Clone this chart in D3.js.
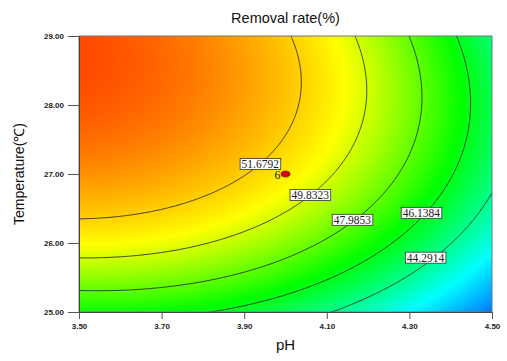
<!DOCTYPE html>
<html><head><meta charset="utf-8">
<script src="https://cdn.jsdelivr.net/npm/d3@7"></script>
<style>body{margin:0;background:#fff}svg{display:block}</style>
</head><body><div id="chart"></div>
<script>
const phTicks = [3.5, 3.7, 3.9, 4.1, 4.3, 4.5];
const tempTicks = [25, 26, 27, 28, 29];
const contourLevels = [44.2914, 46.1384, 47.9853, 49.8323, 51.6792];
const labelPH = [4.339, 4.329, 4.162, 4.060, 3.939];
const labelTemp = [25.787, 26.437, 26.336, 26.697, 27.144];
// quadratic response-surface terms in coded units: [intercept, A, B, AB, A^2, B^2]
// (A = (pH - 4.0) / 0.5, B = (T - 27) / 2), estimated from the contour lines of the picture
const modelCoef = [50.937, -4.328, 3.332, -0.918, -1.944, -2.451];
const designPH = [4.0];
const designTemp = [27.0];
const designCount = ["6"];

function model(ph, t) {
  const A = (ph - 4) / 0.5, B = (t - 27) / 2;
  const c = modelCoef;
  return c[0] + c[1] * A + c[2] * B + c[3] * A * B + c[4] * A * A + c[5] * B * B;
}

const W = 507, H = 361;
const x0 = 79, x1 = 492, y0 = 36, y1 = 312;
const x = d3.scaleLinear().domain([3.5, 4.5]).range([x0, x1]);
const y = d3.scaleLinear().domain([25, 29]).range([y1, y0]);
const color = d3.scaleLinear()
  .domain([37.5, 42.5, 46.5, 50.5, 57])
  .range(["#0000ff", "#00ffff", "#00ff00", "#ffff00", "#ff0000"]).clamp(true);

const svg = d3.select("#chart").append("svg").attr("width", W).attr("height", H);
svg.append("rect").attr("width", W).attr("height", H).attr("fill", "#fff");

// heat map
const pw = x1 - x0, ph = y1 - y0;
const cv = document.createElement("canvas"); cv.width = pw; cv.height = ph;
const ctx = cv.getContext("2d"); const img = ctx.createImageData(pw, ph);
for (let j = 0; j < ph; j++) for (let i = 0; i < pw; i++) {
  const v = model(x.invert(x0 + i + 0.5), y.invert(y0 + j + 0.5));
  const c = d3.rgb(color(v)); const o = 4 * (j * pw + i);
  img.data[o] = c.r; img.data[o + 1] = c.g; img.data[o + 2] = c.b; img.data[o + 3] = 255;
}
ctx.putImageData(img, 0, 0);
svg.append("image").attr("x", x0).attr("y", y0).attr("width", pw).attr("height", ph)
  .attr("preserveAspectRatio", "none").attr("href", cv.toDataURL());

// contours
const gs = 0.005, ts = 0.02, gph0 = 3.49, gt0 = 29.02;
const nx = Math.round((4.51 - 3.49) / gs) + 1, ny = Math.round((29.02 - 24.98) / ts) + 1;
const values = new Array(nx * ny);
for (let j = 0; j < ny; j++) for (let i = 0; i < nx; i++) values[j * nx + i] = model(gph0 + i * gs, gt0 - j * ts);
const contours = d3.contours().size([nx, ny]).thresholds(contourLevels)(values);
const proj = d3.geoTransform({point(gx, gy) { this.stream.point(x(gph0 + (gx - 0.5) * gs), y(gt0 - (gy - 0.5) * ts)); }});
svg.append("clipPath").attr("id", "clip").append("rect").attr("x", x0).attr("y", y0).attr("width", pw).attr("height", ph);
svg.append("g").attr("clip-path", "url(#clip)").selectAll("path").data(contours).join("path")
  .attr("d", d3.geoPath(proj)).attr("fill", "none").attr("stroke", "#1a1a1a").attr("stroke-width", 0.8);

// frame
svg.append("rect").attr("x", x0).attr("y", y0).attr("width", pw).attr("height", ph)
  .attr("fill", "none").attr("stroke", "#777").attr("stroke-width", 1);

// axes
const fmt = d3.format(".2f");
const gx = svg.append("g").attr("transform", `translate(0,${y1})`)
  .call(d3.axisBottom(x).tickValues(phTicks).tickFormat(fmt).tickSize(7).tickPadding(4).tickSizeOuter(0));
const gy = svg.append("g").attr("transform", `translate(${x0},0)`)
  .call(d3.axisLeft(y).tickValues(tempTicks).tickFormat(fmt).tickSize(11).tickPadding(4).tickSizeOuter(0));
[gx, gy].forEach(g => {
  g.selectAll("text").attr("font-family", "Liberation Sans, Arial, sans-serif").attr("font-size", 8).attr("font-weight", "bold").attr("fill", "#222");
  g.selectAll("line").attr("stroke", "#555");
  g.select(".domain").attr("stroke", "#444");
});

// contour labels
const lab = svg.append("g");
contourLevels.forEach((lv, i) => {
  const g = lab.append("g").attr("transform", `translate(${x(labelPH[i])},${y(labelTemp[i])})`);
  const r = g.append("rect");
  const t = g.append("text").text(d3.format(".4f")(lv)).attr("text-anchor", "middle").attr("dy", "0.35em")
    .attr("font-family", "Liberation Serif, Times New Roman, serif").attr("font-size", 11.5).attr("fill", "#222");
  const bb = t.node().getBBox();
  r.attr("x", bb.x - 1.5).attr("y", -5.5).attr("width", bb.width + 3).attr("height", 11)
    .attr("fill", "#fff").attr("stroke", "#333").attr("stroke-width", 0.8);
});

// design point
designPH.forEach((p, i) => {
  svg.append("ellipse").attr("cx", x(p)).attr("cy", y(designTemp[i])).attr("rx", 4.5).attr("ry", 3)
    .attr("fill", "#d40000").attr("stroke", "#8a0000").attr("stroke-width", 0.6);
  svg.append("text").attr("x", x(p) - 5).attr("y", y(designTemp[i]) + 4.5).attr("text-anchor", "end")
    .attr("font-family", "Liberation Serif, Times New Roman, serif").attr("font-size", 12).attr("fill", "#111").text(designCount[i]);
});

// titles
svg.append("text").attr("x", (x0 + x1) / 2).attr("y", 22.5).attr("text-anchor", "middle")
  .attr("font-family", "Liberation Sans, Arial, sans-serif").attr("font-size", 14.5).attr("fill", "#111").text("Removal rate(%)");
svg.append("text").attr("x", (x0 + x1) / 2).attr("y", 350).attr("text-anchor", "middle")
  .attr("font-family", "Liberation Sans, Arial, sans-serif").attr("font-size", 15).attr("fill", "#111").text("pH");
svg.append("text").attr("transform", `translate(24,${(y0 + y1) / 2}) rotate(-90)`).attr("text-anchor", "middle")
  .attr("font-family", "Liberation Sans, Arial, sans-serif").attr("font-size", 14).attr("fill", "#111").text("Temperature(℃)");
</script></body></html>
